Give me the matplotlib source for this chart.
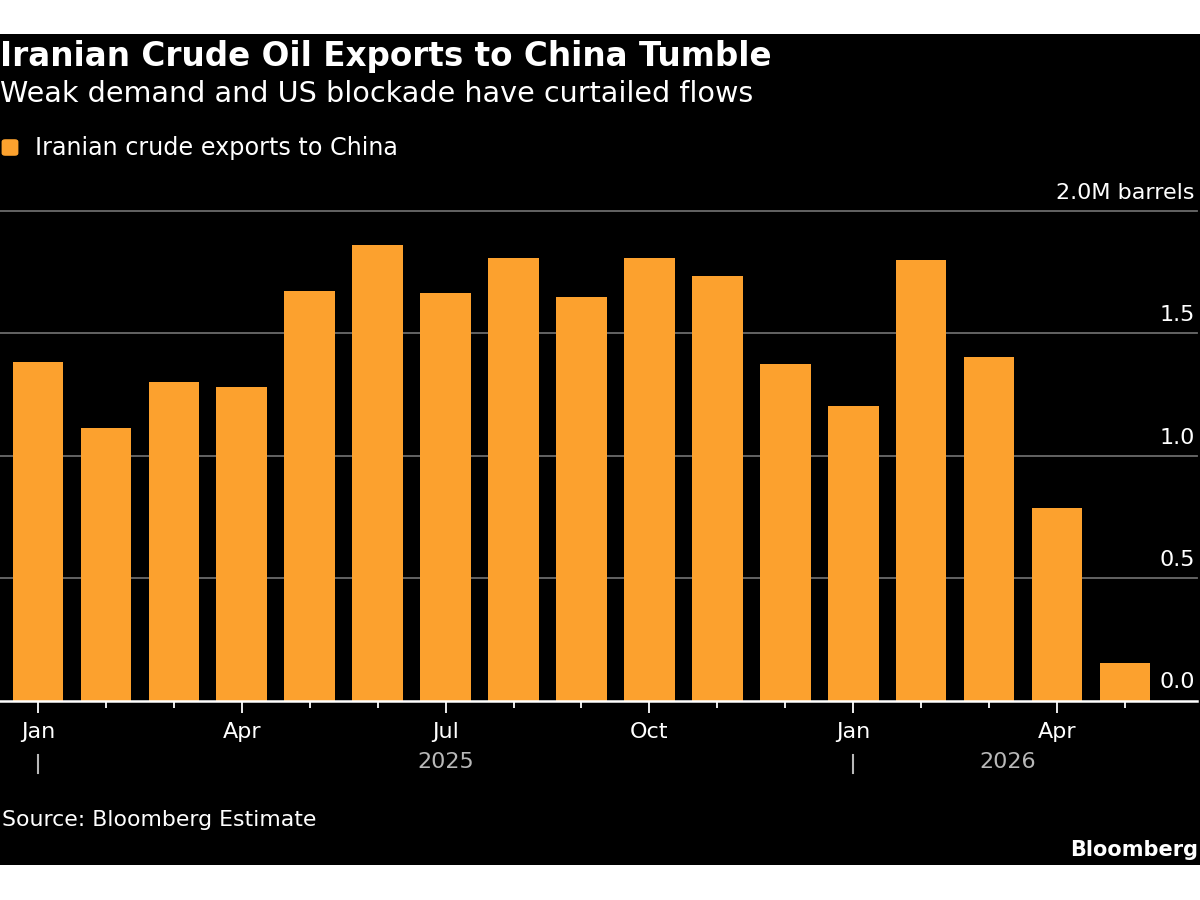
import matplotlib
matplotlib.use("Agg")
import matplotlib.pyplot as plt
import matplotlib.transforms as mtransforms
from matplotlib.patches import Rectangle, FancyBboxPatch

# ---- data ----
months = ["Jan", "Feb", "Mar", "Apr", "May", "Jun", "Jul", "Aug", "Sep", "Oct", "Nov", "Dec",
          "Jan", "Feb", "Mar", "Apr", "May"]
years = [2025] * 12 + [2026] * 5
exports = [1.385, 1.115, 1.30, 1.28, 1.675, 1.86, 1.665, 1.81, 1.65, 1.81, 1.735, 1.375,
           1.205, 1.80, 1.405, 0.785, 0.155]
y_ticks = [0.0, 0.5, 1.0, 1.5, 2.0]
y_tick_labels = ["0.0", "0.5", "1.0", "1.5", "2.0M barrels"]
labeled_months = ["Jan", "Apr", "Jul", "Oct"]

title = "Iranian Crude Oil Exports to China Tumble"
subtitle = "Weak demand and US blockade have curtailed flows"
legend_label = "Iranian crude exports to China"
source = "Source: Bloomberg Estimate"

# ---- style ----
BAR = "#FCA12E"
GRID = "#6b6b6b"
YEARC = "#b8b8b8"
W, H = 1200, 900

plt.rcParams["font.family"] = ["DejaVu Sans"]
fig = plt.figure(figsize=(12, 9), dpi=100, facecolor="white")

def fy(px):
    return 1 - px / H

def fx(px):
    return px / W

# black panel
fig.patches.append(Rectangle((0, fy(865)), 1, (865 - 34) / H, transform=fig.transFigure,
                             facecolor="black", edgecolor="none", zorder=-10))

ax_left, ax_right, ax_top, ax_bot = 0, 1197, 211, 700.5
ax = fig.add_axes([fx(ax_left), fy(ax_bot), fx(ax_right - ax_left), (ax_bot - ax_top) / H])
ax.set_zorder(5)
ax.set_facecolor("none")
for s in ax.spines.values():
    s.set_visible(False)

x = list(range(len(exports)))
ax.bar(x, exports, width=0.745, color=BAR, zorder=2)
ax.set_xlim(-0.559, 17.06)
ax.set_ylim(0, 2.0)

# gridlines
for v in y_ticks[1:]:
    ax.axhline(v, color=GRID, lw=1.3, zorder=1, clip_on=False)
ax.axhline(0, color="white", lw=1.8, zorder=3, clip_on=False)

# y labels (right, above gridlines)
ax.set_yticks([])
for v, lab in zip(y_ticks, y_tick_labels):
    tr = mtransforms.offset_copy(ax.get_yaxis_transform(), fig=fig, x=-2, y=12, units="dots")
    ax.text(1.0, v, lab, transform=tr, ha="right", va="baseline", color="white", fontsize=16)

# x ticks
major = [i for i, m in enumerate(months) if m in labeled_months]
minor = [i for i, m in enumerate(months) if m not in labeled_months]
ax.set_xticks(major)
ax.set_xticklabels([months[i] for i in major])
ax.set_xticks(minor, minor=True)
ax.tick_params(axis="x", which="major", length=8.6, width=1.3, color="white",
               labelcolor="white", labelsize=16, pad=7)
ax.tick_params(axis="x", which="minor", length=5, width=1.3, color="white")

# year labels and separators
yr_start = [i for i in range(len(years)) if i == 0 or years[i] != years[i - 1]]
axh = ax_bot - ax_top
def ay(px):
    return (ax_bot - px) / axh
btr = ax.get_xaxis_transform()
for k, i0 in enumerate(yr_start):
    ax.plot([i0, i0], [ay(755), ay(773)], color=YEARC, lw=1.5, transform=btr, clip_on=False)
yr_2025_pos = months.index("Jul")
yr_2026_pos = (yr_start[1] - 0.5 + ax.get_xlim()[1]) / 2
ax.text(yr_2025_pos, ay(768), str(years[0]), transform=btr, ha="center", va="baseline",
        color=YEARC, fontsize=16)
ax.text(yr_2026_pos, ay(768), str(years[-1]), transform=btr, ha="center", va="baseline",
        color=YEARC, fontsize=16)

# titles
fig.text(fx(0), fy(66), title, ha="left", va="baseline", color="white", fontsize=23.5,
         fontweight="bold")
fig.text(fx(0), fy(102), subtitle, ha="left", va="baseline", color="white", fontsize=20.6)
fig.patches.append(FancyBboxPatch((fx(4), fy(154)), fx(12), 13 / H,
                                  boxstyle="round,pad=0.002,rounding_size=0.003",
                                  transform=fig.transFigure, facecolor=BAR, edgecolor="none"))
fig.text(fx(35), fy(155), legend_label, ha="left", va="baseline", color="white", fontsize=17.2)

fig.text(fx(2), fy(826), source, ha="left", va="baseline", color="white", fontsize=15.8)
fig.text(fx(1198), fy(856), "Bloomberg", ha="right", va="baseline", color="white",
         fontsize=15, fontweight="bold")

fig.savefig("out.png", dpi=100, facecolor="white")
